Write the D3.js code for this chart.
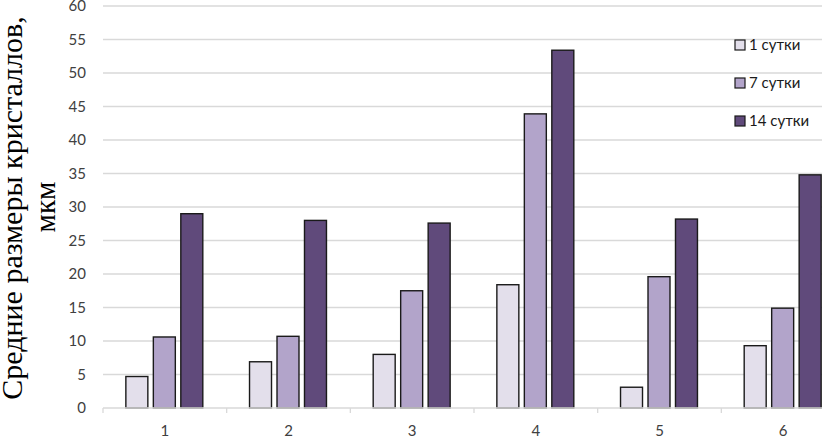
<!DOCTYPE html>
<html><head><meta charset="utf-8">
<script src="https://cdn.jsdelivr.net/npm/d3@7/dist/d3.min.js"></script>
<style>body{margin:0;background:#fff;}svg{display:block;}</style>
</head><body>
<svg id="c" width="822" height="439"></svg>
<script>
const categories = ["1","2","3","4","5","6"];
const seriesNames = ["1 сутки","7 сутки","14 сутки"];
const day1 = [4.7, 6.9, 8.0, 18.4, 3.1, 9.3];
const day7 = [10.6, 10.7, 17.5, 43.9, 19.6, 14.9];
const day14 = [29.0, 28.0, 27.6, 53.4, 28.2, 34.8];
const yTicks = [0,5,10,15,20,25,30,35,40,45,50,55,60];
const colors = ["#e3dfeb","#b2a4ca","#604a7b"];

(function(){
const series = [day1, day7, day14];
const svg = d3.select("#c");
const pL = 103, pR = 845, pT = 6, pB = 408;
const x = d3.scaleBand().domain(categories).range([pL, pR]);
const xs = d3.scaleBand().domain(d3.range(3)).range([0, x.bandwidth()]).paddingInner(0.2).paddingOuter(0.85);
const y = d3.scaleLinear().domain([0,60]).range([pB, pT]);

svg.append("g").selectAll("line").data(yTicks.filter(d=>d>0)).join("line")
  .attr("x1", pL).attr("x2", pR).attr("y1", d=>y(d)).attr("y2", d=>y(d))
  .attr("stroke","#d9d9d9").attr("stroke-width",1.3);

svg.append("g").selectAll("text").data(yTicks).join("text")
  .attr("x", 86).attr("y", d=>y(d)).attr("dy","0.35em").attr("text-anchor","end")
  .attr("font-family","Lato, 'Open Sans', sans-serif").attr("font-size",15).attr("fill","#404040")
  .text(d=>d);

series.forEach((s, si) => {
  svg.append("g").selectAll("rect").data(s).join("rect")
    .attr("x", (d,i)=>x(categories[i]) + xs(si) - 0.5)
    .attr("width", xs.bandwidth())
    .attr("y", d=>y(d)).attr("height", d=>y(0)-y(d))
    .attr("fill", colors[si]).attr("stroke","#1a1a1a").attr("stroke-width",1.4);
});

const gx = svg.append("g").attr("transform",`translate(0,${pB})`);
gx.append("line").attr("x1",pL).attr("x2",pR).attr("y1",0).attr("y2",0).attr("stroke","#d9d9d9").attr("stroke-width",1.3);
gx.selectAll("line.tk").data(categories.map(c=>x(c)).concat([pR])).join("line").attr("class","tk")
  .attr("x1",d=>d).attr("x2",d=>d).attr("y1",0).attr("y2",5).attr("stroke","#d9d9d9").attr("stroke-width",1.3);
gx.selectAll("text").data(categories).join("text")
  .attr("x", d=>x(d)+x.bandwidth()/2).attr("y", 28).attr("text-anchor","middle")
  .attr("font-family","Lato, 'Open Sans', sans-serif").attr("font-size",15).attr("fill","#404040")
  .text(d=>d);

svg.append("text").attr("transform","translate(22,208) rotate(-90)").attr("text-anchor","middle")
  .attr("font-family","'Liberation Serif', 'Times New Roman', serif").attr("font-size",30).attr("fill","#000")
  .text("Средние размеры кристаллов,");
svg.append("text").attr("transform","translate(55,207) rotate(-90)").attr("text-anchor","middle")
  .attr("font-family","'Liberation Serif', 'Times New Roman', serif").attr("font-size",29).attr("fill","#000")
  .text("мкм");

const lg = svg.append("g").selectAll("g").data(seriesNames).join("g")
  .attr("transform",(d,i)=>`translate(735,${45 + i*38})`);
lg.append("rect").attr("x",0).attr("y",-5).attr("width",10).attr("height",10)
  .attr("fill",(d,i)=>colors[i]).attr("stroke","#1a1a1a").attr("stroke-width",1.2);
lg.append("text").attr("x",14).attr("y",0).attr("dy","0.35em")
  .attr("font-family","Lato, 'Open Sans', sans-serif").attr("font-size",15).attr("fill","#1a1a1a")
  .text(d=>d);
})();
</script>
</body></html>
